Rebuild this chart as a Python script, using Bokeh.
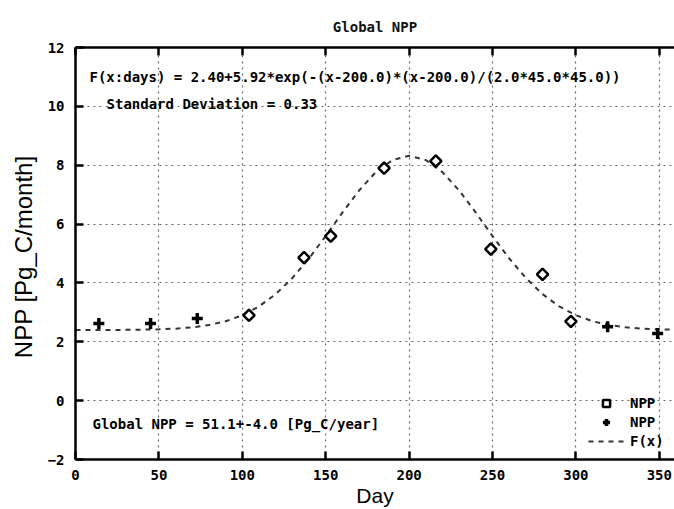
from bokeh.plotting import figure
from bokeh.models import Range1d, LinearAxis, FixedTicker, Label, Legend, LegendItem, Title
from bokeh.embed import file_html
from bokeh.resources import INLINE

# ---- data ----
plus_days = [14, 45, 73, 319, 349]
plus_npp = [2.62, 2.62, 2.79, 2.51, 2.28]
diam_days = [104, 137, 153, 185, 216, 249, 280, 297]
diam_npp = [2.90, 4.86, 5.59, 7.90, 8.14, 5.15, 4.29, 2.69]
fit_days = [0, 10, 20, 30, 40, 50, 60, 70, 80, 90, 100, 110, 120, 130, 140, 150, 160, 170, 180, 190,
            200, 210, 220, 230, 240, 250, 260, 270, 280, 290, 300, 310, 320, 330, 340, 350, 360]
fit_npp = [2.400, 2.401, 2.402, 2.405, 2.411, 2.423, 2.447, 2.491, 2.569, 2.698, 2.901, 3.201, 3.619,
           4.165, 4.834, 5.593, 6.388, 7.140, 7.764, 8.176, 8.320, 8.176, 7.764, 7.140, 6.388, 5.593,
           4.834, 4.165, 3.619, 3.201, 2.901, 2.698, 2.569, 2.491, 2.447, 2.423, 2.411]
x_ticks = [0, 50, 100, 150, 200, 250, 300, 350]
y_ticks = [-2, 0, 2, 4, 6, 8, 10, 12]

title_text = "Global NPP"
formula_text = "F(x:days) = 2.40+5.92*exp(-(x-200.0)*(x-200.0)/(2.0*45.0*45.0))"
sd_text = "Standard Deviation = 0.33"
total_text = "Global NPP = 51.1+-4.0 [Pg_C/year]"
legend_labels = ["NPP", "NPP", "F(x)"]

MONO = "DejaVu Sans Mono"
SANS = "Liberation Sans"

p = figure(width=674, height=509, x_range=Range1d(0, 359.1), y_range=Range1d(-2, 12),
           output_backend="svg", toolbar_location=None,
           min_border_left=75, min_border_top=47, min_border_right=0, min_border_bottom=50)
p.outline_line_color = None
p.background_fill_color = "white"
p.border_fill_color = "white"

p.title = Title(text=title_text, align="center", offset=6, standoff=26, text_font=MONO,
                text_font_size="14px", text_font_style="bold", text_color="#111")

for ax, ticks in ((p.xaxis[0], x_ticks), (p.yaxis[0], y_ticks)):
    ax.ticker = FixedTicker(ticks=ticks)
    ax.axis_line_width = 2.5
    ax.axis_line_color = "black"
    ax.major_tick_in = 8
    ax.major_tick_out = 0
    ax.major_tick_line_width = 2.5
    ax.minor_tick_line_color = None
    ax.major_label_text_font = MONO
    ax.major_label_text_font_style = "bold"
    ax.major_label_text_font_size = "14px"
    ax.major_label_text_color = "black"
    ax.axis_label_text_font = SANS
    ax.axis_label_text_font_style = "normal"
    ax.axis_label_text_color = "black"

p.xaxis.axis_label = "Day"
p.xaxis.axis_label_text_font_size = "21px"
p.yaxis.axis_label = "NPP  [Pg_C/month]"
p.yaxis.axis_label_text_font_size = "24px"
p.xaxis.major_label_standoff = 10
p.xaxis.axis_label_standoff = 1
p.yaxis.major_label_standoff = 11
p.yaxis.axis_label_standoff = 8

top = LinearAxis(ticker=FixedTicker(ticks=[], minor_ticks=x_ticks), axis_line_width=2.5,
                 major_tick_line_color=None, minor_tick_in=8, minor_tick_out=0,
                 minor_tick_line_width=2.5, minor_tick_line_color="black")
p.add_layout(top, "above")

for g in (p.xgrid, p.ygrid):
    g.grid_line_color = "#666"
    g.grid_line_dash = "2 4"
    g.grid_line_width = 1.2

fit = p.line(fit_days, fit_npp, line_color="#333", line_dash="5 5", line_width=2)
dia = p.scatter(diam_days, diam_npp, marker="square", angle=0.7854, size=8, fill_color="white",
                line_color="black", line_width=2.5)
plus = p.scatter(plus_days, plus_npp, marker="cross", size=11, line_color="black", line_width=3.5)

lab_style = dict(text_font=MONO, text_font_style="bold", text_font_size="14px", text_color="black",
                 text_baseline="middle")
p.add_layout(Label(x=8.4, y=11.0, text=formula_text, **lab_style))
p.add_layout(Label(x=18.6, y=10.08, text=sd_text, **lab_style))
p.add_layout(Label(x=10.2, y=-0.78, text=total_text, **lab_style))

legend = Legend(items=[LegendItem(label=legend_labels[0], renderers=[dia]),
                       LegendItem(label=legend_labels[1], renderers=[plus]),
                       LegendItem(label=legend_labels[2], renderers=[fit])],
                location=(513, 9), glyph_width=36, glyph_height=18, spacing=1, padding=0, margin=0,
                label_standoff=6, label_height=18,
                label_text_font=MONO, label_text_font_style="bold", label_text_font_size="14px",
                label_text_color="black",
                border_line_color=None, background_fill_alpha=0)
p.add_layout(legend)

open("out.html", "w").write(file_html(p, INLINE))
